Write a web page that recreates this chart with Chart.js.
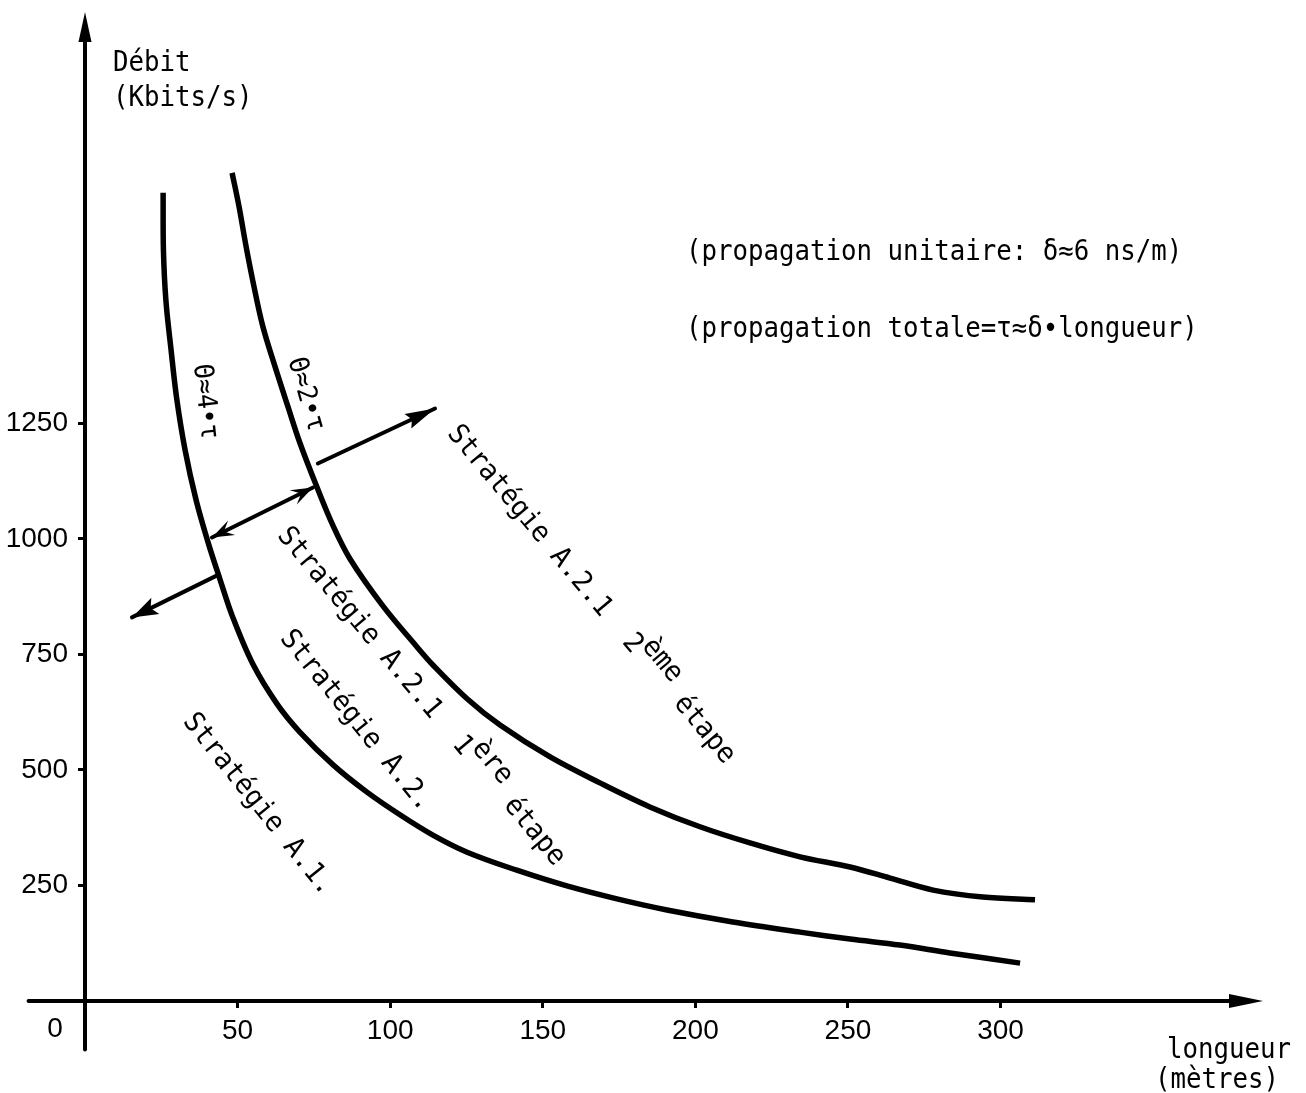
<!DOCTYPE html>
<html lang="fr">
<head>
<meta charset="utf-8">
<title>Débit en fonction de la longueur</title>
<script src="https://cdn.jsdelivr.net/npm/chart.js@4.4.1/dist/chart.umd.min.js"></script>
<style>
    html, body { margin: 0; padding: 0; background: #fff; }
    canvas { display: block; }
</style>
</head>
<body>
<canvas id="debitChart" width="1306" height="1093"></canvas>
<script>
// valeurs : longueur (mètres) / débit (Kbits/s)
const longueurTheta4 = [25.6, 25.7, 26.5, 28.2, 30.1, 32.8, 36.4, 40.3, 44.2, 48.5, 55.0, 62.9, 70.4, 81.3,
    92.4, 103.2, 114.0, 125.2, 141.5, 157.9, 174.3, 190.7, 212.3, 234.3, 250.7, 267.0, 283.4, 306.4];
const debitTheta4 = [1749, 1625, 1517, 1409, 1301, 1192, 1084, 993, 913, 829, 729, 643, 582, 511,
    452, 403, 359, 322, 283, 249, 221, 197, 171, 149, 134, 121, 104, 82];

const longueurTheta2 = [48.2, 50.5, 52.8, 55.4, 58.3, 62.3, 66.5, 70.4, 76.0, 81.3, 86.8, 97.6, 108.8, 114.0,
    125.2, 136.0, 152.4, 168.7, 185.1, 201.5, 217.9, 234.3, 250.7, 263.8, 277.9, 294.2, 311.3];
const debitTheta2 = [1792, 1718, 1632, 1545, 1459, 1372, 1286, 1208, 1112, 1028, 957, 855, 766, 727,
    654, 597, 528, 472, 420, 377, 342, 312, 290, 266, 240, 225, 219];

const ticksLongueur = [50, 100, 150, 200, 250, 300];
const ticksDebit = [250, 500, 750, 1000, 1250];

const policeMachine = '"DejaVu Sans Mono", "Liberation Mono", monospace';
const policeChiffres = '"Liberation Sans", Arial, sans-serif';

// flèches entre les zones (en unités du graphique)
const fleches = [
    { de: [76.3, 1163], vers: [114.7, 1282], double: false, pointe: [30, 8, 0.85] },
    { de: [41.6, 1003], vers: [74.7, 1111], double: true, pointe: [22, 8, 0.6] },
    { de: [43.3, 921], vers: [15.4, 830], double: false, pointe: [26, 9, 0.8] }
];

// textes horizontaux : [texte, x, ligne de base]
const notes = [
    ['Débit', 113, 71],
    ['(Kbits/s)', 113, 106],
    ['longueur', 1167, 1058],
    ['(mètres)', 1155, 1088],
    ['(propagation unitaire: δ≈6 ns/m)', 686, 260],
    ['(propagation totale=τ≈δ•longueur)', 686, 337]
];

// textes inclinés le long des courbes (position en pixels, angle en degrés)
const etiquettes = [
    { morceaux: [['Stratégie A.2.1  2'], ['ème', -12], [' étape']], x: 452, y: 429, angle: 50 },
    { morceaux: [['Stratégie A.2.1  1'], ['ère', -12], [' étape']], x: 282, y: 531, angle: 50 },
    { morceaux: [['Stratégie A.2.']], x: 285, y: 634, angle: 50.8 },
    { morceaux: [['Stratégie A.1.']], x: 188, y: 717, angle: 51.3 },
    { morceaux: [['Θ≈4•τ']], x: 201, y: 364, angle: 84, taille: 27, serre: 0.93 },
    { morceaux: [['Θ≈2•τ']], x: 295, y: 358, angle: 74, taille: 27, serre: 0.93 }
];

const versPoints = (xs, ys) => xs.map((x, i) => ({ x: x, y: ys[i] }));

// pointe pleine ; creux = part de la longueur où se trouve l'encoche (1 = triangle)
const pointeFleche = (ctx, x0, y0, x1, y1, longueur, demiLargeur, creux) => {
    const a = Math.atan2(y1 - y0, x1 - x0);
    const c = Math.cos(a), s = Math.sin(a);
    const bx = x1 - longueur * c, by = y1 - longueur * s;
    const nx = x1 - longueur * creux * c, ny = y1 - longueur * creux * s;
    ctx.beginPath();
    ctx.moveTo(x1, y1);
    ctx.lineTo(bx - demiLargeur * s, by + demiLargeur * c);
    ctx.lineTo(nx, ny);
    ctx.lineTo(bx + demiLargeur * s, by - demiLargeur * c);
    ctx.closePath();
    ctx.fill();
};

const trait = (ctx, x0, y0, x1, y1) => {
    ctx.beginPath();
    ctx.moveTo(x0, y0);
    ctx.lineTo(x1, y1);
    ctx.stroke();
};

// texte « machine à écrire » : police haute et un peu serrée
const ecrire = (ctx, morceaux, x, y, angle, taille, serre, baseline) => {
    ctx.save();
    ctx.translate(x, y);
    ctx.rotate(angle * Math.PI / 180);
    ctx.scale(serre, 1);
    ctx.font = taille + 'px ' + policeMachine;
    ctx.textAlign = 'left';
    ctx.textBaseline = baseline;
    let pos = 0;
    morceaux.forEach(([t, dy]) => {
        ctx.fillText(t, pos, dy || 0);
        pos += ctx.measureText(t).width;
    });
    ctx.restore();
};

const decorPlugin = {
    id: 'decor',
    afterDraw(chart) {
        const ctx = chart.ctx;
        const X = v => chart.scales.x.getPixelForValue(v);
        const Y = v => chart.scales.y.getPixelForValue(v);
        ctx.save();
        ctx.strokeStyle = '#000';
        ctx.fillStyle = '#000';
        ctx.lineCap = 'round';

        // axes avec leurs flèches
        ctx.lineWidth = 4;
        trait(ctx, X(0), Y(-105), X(0), Y(2140) + 20);
        pointeFleche(ctx, X(0), Y(0), X(0), Y(2140), 30, 6.5, 1);
        trait(ctx, X(-18.5), Y(0), X(386) - 24, Y(0));
        pointeFleche(ctx, X(0), Y(0), X(386), Y(0), 34, 7, 1);

        // flèches de changement de stratégie
        fleches.forEach(f => {
            const x0 = X(f.de[0]), y0 = Y(f.de[1]);
            const x1 = X(f.vers[0]), y1 = Y(f.vers[1]);
            const [lg, lr, cr] = f.pointe;
            ctx.lineWidth = 4;
            trait(ctx, x0, y0, x1, y1);
            pointeFleche(ctx, x0, y0, x1, y1, lg, lr, cr);
            if (f.double) {
                pointeFleche(ctx, x1, y1, x0, y0, lg, lr, cr);
            }
        });

        notes.forEach(([t, x, y]) => ecrire(ctx, [[t]], x, y, 0, 28, 0.92, 'alphabetic'));

        ctx.font = '28px ' + policeChiffres;
        ctx.textAlign = 'center';
        ctx.textBaseline = 'middle';
        ctx.fillText('0', 55, 1029);

        etiquettes.forEach(e => {
            ecrire(ctx, e.morceaux, e.x, e.y, e.angle, e.taille || 28, e.serre || 0.95, 'middle');
        });
        ctx.restore();
    }
};

const ctx = document.getElementById('debitChart').getContext('2d');
new Chart(ctx, {
    type: 'scatter',
    data: {
        datasets: [{
            label: 'Θ≈4•τ',
            data: versPoints(longueurTheta4, debitTheta4),
            showLine: true,
            borderColor: '#000',
            borderWidth: 5.5,
            pointRadius: 0,
            tension: 0.35
        }, {
            label: 'Θ≈2•τ',
            data: versPoints(longueurTheta2, debitTheta2),
            showLine: true,
            borderColor: '#000',
            borderWidth: 5.5,
            pointRadius: 0,
            tension: 0.35
        }]
    },
    options: {
        responsive: false,
        animation: false,
        layout: {
            padding: { top: 12, right: 43, bottom: 0, left: 0 }
        },
        plugins: {
            legend: { display: false },
            tooltip: { enabled: false }
        },
        scales: {
            x: {
                type: 'linear',
                min: 0,
                max: 386,
                border: { display: false },
                grid: { drawOnChartArea: false, color: '#000', tickLength: 7, tickWidth: 3 },
                ticks: {
                    color: '#000',
                    padding: 6,
                    maxRotation: 0,
                    autoSkip: false,
                    font: { family: policeChiffres, size: 28 },
                    callback: v => String(v)
                },
                afterBuildTicks: scale => { scale.ticks = ticksLongueur.map(v => ({ value: v })); },
                afterFit: scale => { scale.height = 92; scale.paddingLeft = 0; scale.paddingRight = 0; }
            },
            y: {
                type: 'linear',
                min: 0,
                max: 2140,
                border: { display: false },
                grid: { drawOnChartArea: false, color: '#000', tickLength: 7, tickWidth: 3 },
                ticks: {
                    color: '#000',
                    padding: 10,
                    autoSkip: false,
                    font: { family: policeChiffres, size: 28 },
                    callback: v => String(v)
                },
                afterBuildTicks: scale => { scale.ticks = ticksDebit.map(v => ({ value: v })); },
                afterFit: scale => { scale.width = 85; scale.paddingTop = 0; scale.paddingBottom = 0; }
            }
        }
    },
    plugins: [decorPlugin]
});
</script>
</body>
</html>
